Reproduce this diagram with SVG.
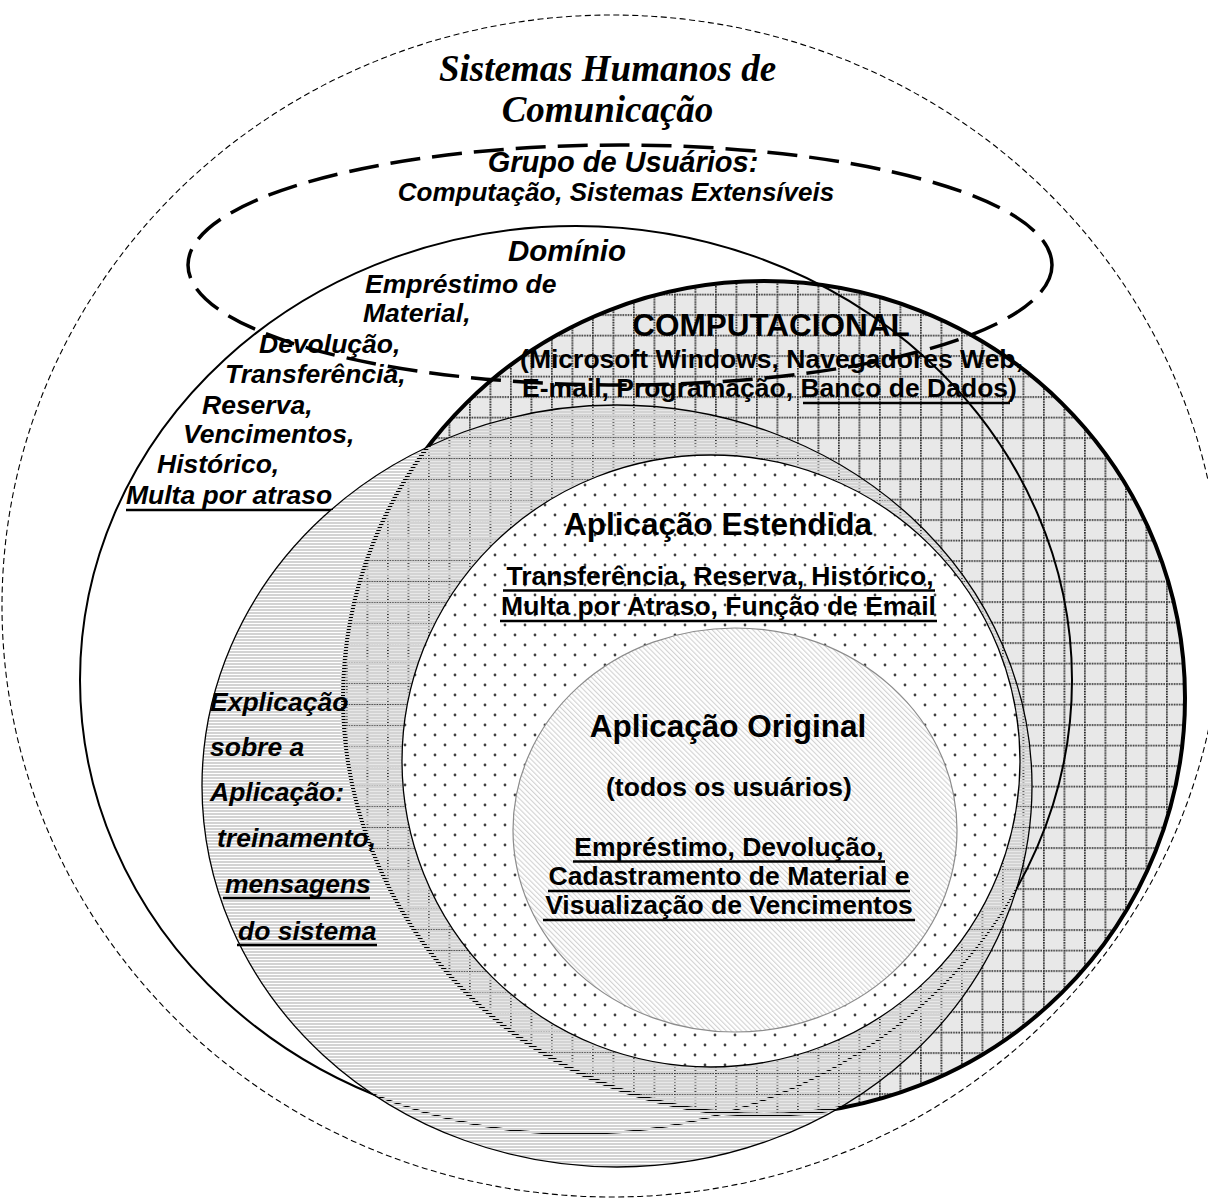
<svg xmlns="http://www.w3.org/2000/svg" width="1208" height="1199" viewBox="0 0 1208 1199">
  <defs>
    <pattern id="grid" patternUnits="userSpaceOnUse" x="18" y="6.7" width="20.5" height="20.5">
      <rect width="20.5" height="20.5" fill="#e8e8e8"/>
      <line x1="0" y1="0.85" x2="20.5" y2="0.85" stroke="#262626" stroke-width="1.8" stroke-dasharray="1.5 1.0625"/>
      <line x1="0.85" y1="0" x2="0.85" y2="20.5" stroke="#262626" stroke-width="1.8" stroke-dasharray="1.5 1.0625"/>
    </pattern>
    <pattern id="hstripe" patternUnits="userSpaceOnUse" width="10" height="3">
      <rect width="10" height="2" fill="#d3d3d3"/>
    </pattern>
    <pattern id="dots" patternUnits="userSpaceOnUse" width="20" height="20">
      <rect width="20" height="20" fill="#ffffff"/>
      <circle cx="5" cy="5" r="1.4" fill="#404040"/>
      <circle cx="15" cy="15" r="1.4" fill="#404040"/>
    </pattern>
    <pattern id="hatch" patternUnits="userSpaceOnUse" width="3.6" height="3.6" patternTransform="rotate(-45)">
      <rect width="3.6" height="3.6" fill="#ffffff"/>
      <rect width="1.1" height="3.6" fill="#d2d2d2"/>
    </pattern>
  </defs>
  <style>
    .t { font-family: "Liberation Sans", Arial, sans-serif; font-weight: bold; fill: #000; font-size: 26.5px; }
    .i { font-style: italic; }
    .c { text-anchor: middle; }
    .big { font-size: 31.5px; }
    .s { font-family: "Liberation Serif", "Times New Roman", serif; font-weight: bold; font-style: italic; font-size: 37px; fill: #000; text-anchor: middle; }
    .ul { stroke: #000; stroke-width: 2.6; }
  </style>

  <rect width="1208" height="1199" fill="#ffffff"/>

  <g id="sistemas-humanos">
    <ellipse cx="612" cy="606" rx="610" ry="591" fill="#ffffff" stroke="#000" stroke-width="1.1" stroke-dasharray="6 3.5"/>
    <text class="s" x="607.5" y="81">Sistemas Humanos de</text>
    <text class="s" x="607.5" y="122">Comunicação</text>
  </g>

  <g id="computacional">
    <ellipse cx="764" cy="698" rx="421" ry="417" fill="url(#grid)" stroke="#000" stroke-width="4"/>
    <text class="t c big" x="771" y="336">COMPUTACIONAL</text>
    <text class="t c" x="771.5" y="368">(Microsoft Windows, Navegadores Web,</text>
    <text class="t c" x="769.5" y="397">E-mail, Programação, Banco de Dados)</text>
    <line class="ul" x1="803" y1="403" x2="1010" y2="403"/>
  </g>

  <g id="dominio">
    <ellipse cx="576" cy="680" rx="496" ry="454" fill="none" stroke="#000" stroke-width="2"/>
    <text class="t i" x="508" y="261" style="font-size:29.5px">Domínio</text>
    <text class="t i" x="365" y="293">Empréstimo de</text>
    <text class="t i" x="363" y="322">Material,</text>
    <text class="t i" x="259" y="353">Devolução,</text>
    <text class="t i" x="225" y="383">Transferência,</text>
    <text class="t i" x="202" y="414">Reserva,</text>
    <text class="t i" x="183" y="443">Vencimentos,</text>
    <text class="t i" x="157" y="473">Histórico,</text>
    <text class="t i" x="126" y="504">Multa por atraso</text>
    <line class="ul" x1="126" y1="510" x2="333" y2="510"/>
  </g>

  <g id="explicacao">
    <ellipse cx="617" cy="786" rx="415" ry="381" fill="url(#hstripe)" stroke="#000" stroke-width="1.3"/>
    <text class="t i" x="210" y="711">Explicação</text>
    <text class="t i" x="210" y="756">sobre a</text>
    <text class="t i" x="210" y="801">Aplicação:</text>
    <text class="t i" x="217" y="847">treinamento,</text>
    <text class="t i" x="225" y="893">mensagens</text>
    <line class="ul" x1="223" y1="898" x2="370" y2="898"/>
    <text class="t i" x="238" y="940">do sistema</text>
    <line class="ul" x1="237" y1="945" x2="377" y2="945"/>
  </g>

  <g id="aplicacao-estendida">
    <ellipse cx="711" cy="761" rx="309" ry="306" fill="url(#dots)" stroke="#000" stroke-width="1.3"/>
    <text class="t c big" x="718" y="535">Aplicação Estendida</text>
    <text class="t c" x="720" y="585">Transferência, Reserva, Histórico,</text>
    <line class="ul" x1="503" y1="590.5" x2="935" y2="590.5"/>
    <text class="t c" x="718.5" y="615">Multa por Atraso, Função de Email</text>
    <line class="ul" x1="500" y1="621" x2="937" y2="621"/>
  </g>

  <g id="aplicacao-original">
    <ellipse cx="735" cy="830" rx="222" ry="202" fill="url(#hatch)" stroke="#8c8c8c" stroke-width="1.2"/>
    <text class="t c big" x="728" y="737">Aplicação Original</text>
    <text class="t c" x="729" y="796">(todos os usuários)</text>
    <text class="t c" x="729" y="856">Empréstimo, Devolução,</text>
    <line class="ul" x1="573" y1="861.5" x2="885" y2="861.5"/>
    <text class="t c" x="729" y="885">Cadastramento de Material e</text>
    <line class="ul" x1="548" y1="891" x2="910" y2="891"/>
    <text class="t c" x="729" y="914">Visualização de Vencimentos</text>
    <line class="ul" x1="543" y1="920" x2="915" y2="920"/>
  </g>

  <g id="grupo-usuarios">
    <ellipse cx="620" cy="265" rx="432" ry="120" fill="none" stroke="#000" stroke-width="3.5" stroke-dasharray="30 12"/>
    <text class="t i c" x="623" y="172" style="font-size:29px">Grupo de Usuários:</text>
    <text class="t i c" x="616" y="201" style="font-size:26px">Computação, Sistemas Extensíveis</text>
  </g>

  <g id="connectors"/>
</svg>
